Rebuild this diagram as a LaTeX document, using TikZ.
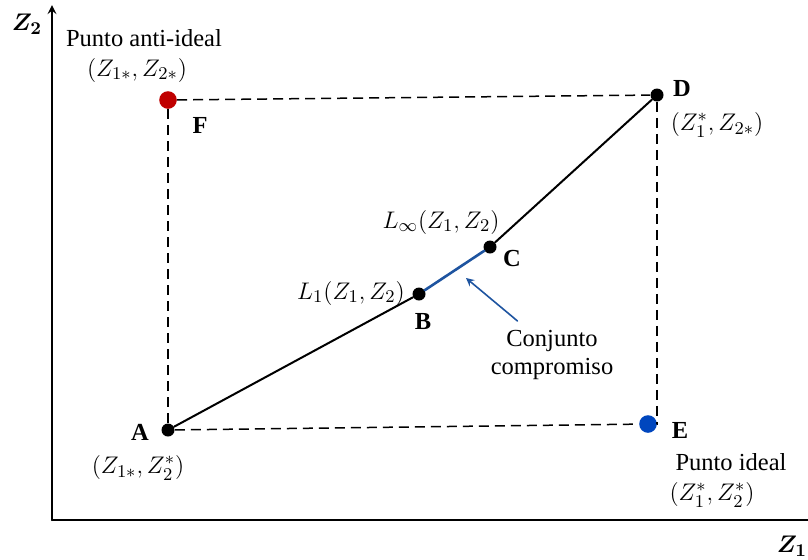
\documentclass[tikz,border=0pt]{standalone}
\usepackage{amsmath,amssymb,bm}
\usepackage{fontspec}
\setmainfont{Liberation Serif}
\definecolor{antired}{RGB}{192,0,0}
\definecolor{idealblue}{RGB}{0,70,190}
\definecolor{setblue}{RGB}{30,84,160}

\begin{document}
\begin{tikzpicture}[x=0.5pt, y=-0.5pt, >=stealth, line join=round, line cap=round,
	font=\fontsize{12.25}{14.7}\selectfont,
	dot/.style={circle, fill=black, inner sep=0pt, minimum size=6.5pt},
	bigdot/.style={circle, inner sep=0pt, minimum size=8.8pt},
	dashline/.style={dash pattern=on 5pt off 3pt, line width=0.75pt, line cap=butt},
	ptname/.style={font=\fontsize{12.25}{14.7}\selectfont\bfseries}]
	\useasboundingbox (0,0) rectangle (808,559);
	
	% 1. Ejes
	\coordinate (O) at (52,520);
	\draw[line width=1pt] (O) -- (812,520);
	\draw[->, line width=1pt] (O) -- (52,5);
	\node (z2) at (27,24) {$\boldsymbol{Z_2}$};
	\node (z1) at (792,546) {$\boldsymbol{Z_1}$};
	
	% 2. Puntos
	\node[bigdot, fill=antired] (F) at (168,100) {};
	\node[dot] (D) at (657,95) {};
	\node[dot] (A) at (168,430) {};
	\node[bigdot, fill=idealblue] (E) at (648,424) {};
	\node[dot] (B) at (419,294) {};
	\node[dot] (C) at (490,247) {};
	
	% 3. Rectangulo punteado
	\draw[dashline] (F) -- (D);
	\draw[dashline] (F) -- (A);
	\draw[dashline] (A) -- (E);
	\draw[dashline] (D) |- (E);
	
	% 4. Recta A--D y conjunto compromiso
	\draw[line width=1pt] (A) -- (B);
	\draw[line width=1.3pt, setblue] (B) -- (C);
	\draw[line width=1pt] (C) -- (D);
	
	% 5. Etiquetas
	\node (antitxt) at (144,38) {Punto anti-ideal};
	\node (Fcoord) at (137,70) {$(Z_{1*},Z_{2*})$};
	\node[ptname] (Flab) at (200,125) {F};
	\node[ptname] (Dlab) at (682,88) {D};
	\node (Dcoord) at (717,125) {$(Z_1^*,Z_{2*})$};
	\node (Cinf) at (441,222) {$L_\infty(Z_1,Z_2)$};
	\node[ptname] (Clab) at (512,258) {C};
	\node (Bone) at (351,293) {$L_1(Z_1,Z_2)$};
	\node[ptname] (Blab) at (423,322) {B};
	\node[ptname] (Alab) at (140,432) {A};
	\node (Acoord) at (138,468) {$(Z_{1*},Z_2^*)$};
	\node[ptname] (Elab) at (680,430) {E};
	\node (idealtxt) at (731,462) {Punto ideal};
	\node (Ecoord) at (712,495) {$(Z_1^*,Z_2^*)$};
	
	% 6. Flecha del conjunto compromiso
	\node[align=center] (conj) at (552,355) {Conjunto\\[-1pt]compromiso};
	\coordinate (tip) at (466,278);
	\draw[->, setblue, line width=0.8pt, shorten <=2pt] (conj.135) -- (tip);
\end{tikzpicture}
\end{document}
